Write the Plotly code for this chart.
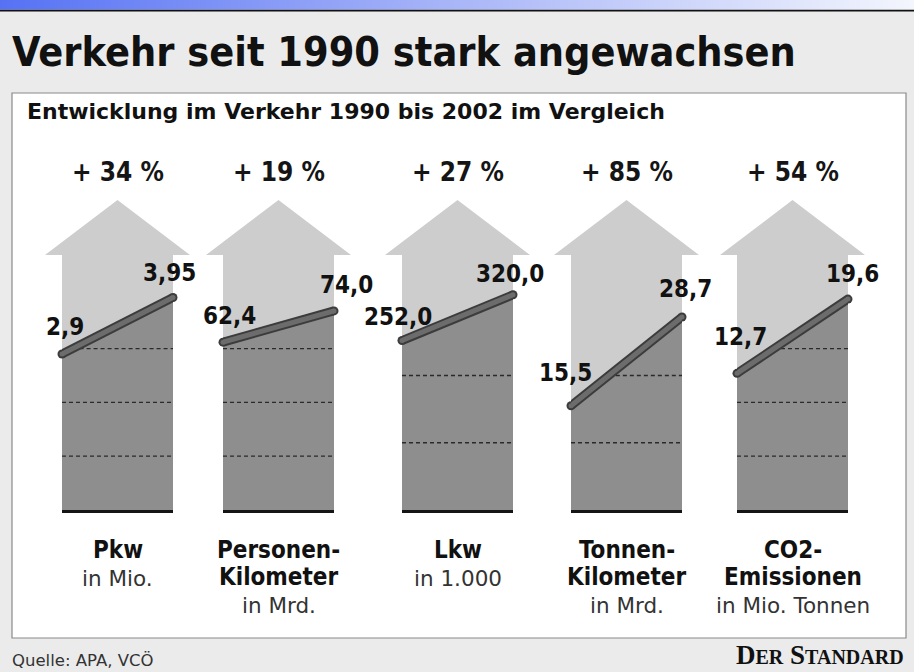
import plotly.graph_objects as go

# ---------------- data ----------------
years = [1990, 2002]
cat_names = ["Pkw", "Personen-\nKilometer", "Lkw", "Tonnen-\nKilometer", "CO2-\nEmissionen"]
units = ["in Mio.", "in Mrd.", "in 1.000", "in Mrd.", "in Mio. Tonnen"]
v1990 = [2.9, 62.4, 252.0, 15.5, 12.7]
v2002 = [3.95, 74.0, 320.0, 28.7, 19.6]
growth_labels = ["+ 34 %", "+ 19 %", "+ 27 %", "+ 85 %", "+ 54 %"]
axis_max = [5, 100, 400, 40, 25]
grid_values = [[1, 2, 3], [20, 40, 60], [100, 200], [10, 20], [5, 10, 15]]

title = "Verkehr seit 1990 stark angewachsen"
subtitle = "Entwicklung im Verkehr 1990 bis 2002 im Vergleich"
source = "Quelle: APA, VCÖ"

# ---------------- layout helpers ----------------
W, H = 914, 672
def px(x):
    return x / W
def py(y):
    return 1 - y / H

shaft_left = [62, 223, 402, 571, 737]
shaft_w = 111
y_base, y_top = 510, 241

COND = "DejaVu Sans Condensed, Liberation Sans Narrow, DejaVu Sans, sans-serif"
REG = "DejaVu Sans, sans-serif"

def fmt(v):
    s = f"{v:.1f}" if round(v, 1) == v else f"{v:.2f}"
    return s.replace(".", ",")

fig = go.Figure()
shapes = []
annotations = []

# canvas axis for banner gradient
fig.add_trace(go.Scatter(
    x=[0, W, W, 0, 0], y=[0, 0, 9.5, 9.5, 0], mode="lines", line=dict(width=0),
    fill="toself",
    fillgradient=dict(type="horizontal", colorscale=[[0, "#5672f4"], [0.5, "#a9b6f8"], [1, "#f3f6fd"]]),
    xaxis="x6", yaxis="y6", hoverinfo="skip", showlegend=False))

# white box
shapes.append(dict(type="rect", xref="paper", yref="paper", x0=px(12), x1=px(906), y0=py(638), y1=py(93),
                   fillcolor="white", line=dict(color="#8a8a8a", width=1.2), layer="below"))
# black rule under banner
shapes.append(dict(type="line", xref="paper", yref="paper", x0=0, x1=1, y0=py(10.5), y1=py(10.5),
                   line=dict(color="#111111", width=2), layer="below"))

layout_axes = {}
head_ext = 0.153
tip = (y_base - 200) / (y_base - y_top)
hb = (y_base - 255) / (y_base - y_top)

for i in range(5):
    n = i + 1
    sfx = "" if n == 1 else str(n)
    xa, ya = f"x{sfx}", f"y{sfx}"
    layout_axes[f"xaxis{sfx}"] = dict(domain=[px(shaft_left[i]), px(shaft_left[i] + shaft_w)],
                                     range=[years[0], years[1]], visible=True, showgrid=False,
                                     zeroline=False, showticklabels=False, ticks="",
                                     showline=True, linecolor="#151515", linewidth=3,
                                     anchor=ya, fixedrange=True)
    layout_axes[f"yaxis{sfx}"] = dict(domain=[py(y_base), py(y_top)], range=[0, axis_max[i]],
                                     visible=False, anchor=xa, fixedrange=True)
    # arrow silhouette (decoration) in axis-domain coordinates
    path = (f"M {-head_ext},{hb} L 0.5,{tip} L {1 + head_ext},{hb} L 1,{hb} L 1,0 "
            f"L 0,0 L 0,{hb} Z")
    shapes.append(dict(type="path", xref=f"{xa} domain", yref=f"{ya} domain", path=path,
                       fillcolor="#cdcdcd", line=dict(width=0), layer="below"))

    a, b = v1990[i], v2002[i]
    # dark area under the line
    fig.add_trace(go.Scatter(x=[years[0], years[0], years[1], years[1]], y=[0, a, b, 0],
                             fill="toself", fillcolor="#8e8e8e", mode="lines", line=dict(width=0),
                             xaxis=xa, yaxis=ya, hoverinfo="skip", showlegend=False))
    # dashed grid lines inside dark area
    for g in grid_values[i]:
        if g >= b:
            continue
        xs = years[0] if g <= a else years[0] + (g - a) / (b - a) * (years[1] - years[0])
        fig.add_trace(go.Scatter(x=[xs, years[1]], y=[g, g], mode="lines",
                                 line=dict(color="#2a2a2a", width=1.3, dash="4px,3px"),
                                 xaxis=xa, yaxis=ya, hoverinfo="skip", showlegend=False))
    # rod
    fig.add_trace(go.Scatter(x=years, y=[a, b], mode="lines+markers",
                             line=dict(color="#3c3c3c", width=9),
                             marker=dict(size=9, color="#3c3c3c"), cliponaxis=False,
                             xaxis=xa, yaxis=ya, hoverinfo="skip", showlegend=False))
    fig.add_trace(go.Scatter(x=years, y=[a, b], mode="lines+markers",
                             line=dict(color="#6c6c6c", width=5),
                             marker=dict(size=5, color="#6c6c6c"), cliponaxis=False,
                             xaxis=xa, yaxis=ya, hoverinfo="skip", showlegend=False))

    # value labels
    left_shift = [(3, 27), (6, 26), (-4, 24), (-6, 33), (3, 36)][i]
    right_shift = [(-4, 24), (12, 26), (-3, 21), (3, 28), (4, 25)][i]
    for x, v, (dx, dy) in [(years[0], a, left_shift), (years[1], b, right_shift)]:
        annotations.append(dict(xref=xa, yref=ya, x=x, y=v, text=f"<b>{fmt(v)}</b>",
                                showarrow=False, xshift=dx, yshift=dy, yanchor="middle",
                                font=dict(family=COND, size=24, color="#111111")))
    # growth label
    annotations.append(dict(xref=f"{xa} domain", yref="paper", x=0.5, y=py(172), yanchor="middle",
                            text=f"<b>{growth_labels[i]}</b>", showarrow=False,
                            font=dict(family=COND, size=26, color="#151515")))
    # category labels
    lines = cat_names[i].split("\n")
    for k, ln in enumerate(lines):
        annotations.append(dict(xref=f"{xa} domain", yref="paper", x=0.5, y=py(550 + 27 * k),
                                yanchor="middle", text=f"<b>{ln}</b>", showarrow=False,
                                font=dict(family=COND, size=24, color="#111111")))
    annotations.append(dict(xref=f"{xa} domain", yref="paper", x=0.5, y=py(551 + 27 * len(lines)),
                            yanchor="middle", text=units[i], showarrow=False,
                            font=dict(family=REG, size=21.5, color="#333333")))

# titles and footer
annotations.append(dict(xref="paper", yref="paper", x=px(10), y=py(52), xanchor="left", yanchor="middle",
                        text=f"<b>{title}</b>", showarrow=False,
                        font=dict(family=COND, size=41, color="#111111")))
annotations.append(dict(xref="paper", yref="paper", x=px(25), y=py(112), xanchor="left", yanchor="middle",
                        text=f"<b>{subtitle}</b>", showarrow=False,
                        font=dict(family=REG, size=22, color="#111111")))
annotations.append(dict(xref="paper", yref="paper", x=px(10), y=py(660), xanchor="left", yanchor="middle",
                        text=source, showarrow=False,
                        font=dict(family=REG, size=16.5, color="#333333")))
annotations.append(dict(xref="paper", yref="paper", x=px(906), y=0, xanchor="right", yanchor="bottom",
                        text="<b>D<span style='font-size:20px'>ER</span> S<span style='font-size:20px'>TANDARD</span></b>",
                        showarrow=False,
                        font=dict(family="Liberation Serif, DejaVu Serif, serif", size=27, color="#111111")))

layout_axes["xaxis6"] = dict(domain=[0, 1], range=[0, W], visible=False, fixedrange=True, anchor="y6")
layout_axes["yaxis6"] = dict(domain=[0, 1], range=[H, 0], visible=False, fixedrange=True, anchor="x6")

fig.update_layout(width=W, height=H, margin=dict(l=0, r=0, t=0, b=0),
                  paper_bgcolor="#ebebeb", plot_bgcolor="rgba(0,0,0,0)",
                  shapes=shapes, annotations=annotations, showlegend=False, **layout_axes)

fig.write_html("out.html", config={"displayModeBar": False},
               post_script="document.body.style.margin='0px';document.body.style.overflow='hidden';")
